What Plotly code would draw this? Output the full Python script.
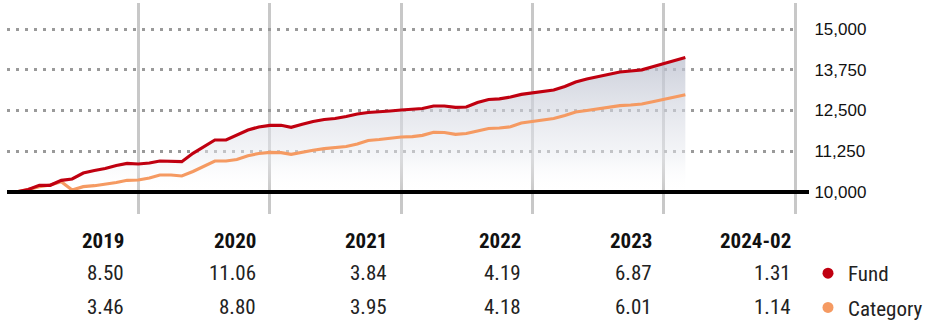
import pandas as pd
import plotly.graph_objects as go

# ---------------- data ----------------
start_month = "2018-12-31"
fund_values = [10000, 10015, 10077, 10205, 10205, 10359, 10399, 10583, 10660, 10721,
               10813, 10880, 10859, 10889, 10951, 10951, 10929, 11187, 11395, 11595,
               11595, 11748, 11902, 11994, 12046, 12046, 11984, 12076, 12162, 12224,
               12254, 12316, 12392, 12438, 12454, 12484, 12515, 12536, 12561, 12638,
               12638, 12598, 12607, 12745, 12837, 12858, 12914, 12996, 13045, 13088,
               13128, 13236, 13374, 13466, 13536, 13610, 13680, 13711, 13748, 13843,
               13947, 14033, 14125]
category_values = [10000, 10015, 10077, 10160, 10215, 10316, 10061, 10163, 10193, 10230,
                   10291, 10359, 10368, 10429, 10521, 10521, 10491, 10629, 10782, 10951,
                   10951, 10997, 11113, 11181, 11218, 11205, 11156, 11227, 11282, 11328,
                   11365, 11396, 11472, 11580, 11610, 11656, 11687, 11699, 11739, 11831,
                   11825, 11770, 11794, 11871, 11948, 11963, 12000, 12116, 12168, 12208,
                   12254, 12346, 12454, 12500, 12546, 12598, 12647, 12668, 12699, 12770,
                   12843, 12914, 12984]
period_labels = ["2019", "2020", "2021", "2022", "2023", "2024-02"]
fund_returns = ["8.50", "11.06", "3.84", "4.19", "6.87", "1.31"]
category_returns = ["3.46", "8.80", "3.95", "4.18", "6.01", "1.14"]
year_ends = ["2019-12-31", "2020-12-31", "2021-12-31", "2022-12-31", "2023-12-31", "2024-12-31"]
y_ticks = [10000, 11250, 12500, 13750, 15000]
series_names = ["Fund", "Category"]

# ---------------- style / layout constants ----------------
W, H = 939, 329
PL, PR, PT, PB = 7, 799, 3, 214          # plot area in px
X_END = "2025-01-10"
FUND_C = "#c00010"
CAT_C = "#f59a62"
col_right_px = [126, 258, 389, 523, 654, 793]
row_px = [241, 273, 307]
TABLE_FONT = "Liberation Sans Narrow, Roboto Condensed, DejaVu Sans Condensed, Arial Narrow, sans-serif"

dates = pd.date_range(start_month, periods=len(fund_values), freq="ME")

def px_to_paper_x(px):
    return (px - PL) / (PR - PL)

def px_to_paper_y(py):
    return (PB - py) / (PB - PT)

fig = go.Figure()

# baseline for the fill
fig.add_trace(go.Scatter(x=dates, y=[y_ticks[0]] * len(dates), mode="lines",
                         line=dict(width=0), showlegend=False, hoverinfo="skip"))
# shaded area under fund line
fig.add_trace(go.Scatter(
    x=dates, y=fund_values, mode="lines", line=dict(width=0), fill="tonexty",
    fillgradient=dict(type="vertical", start=10000, stop=14200,
                      colorscale=[[0, "rgba(255,255,255,0)"], [0.25, "rgba(235,237,242,0.5)"],
                                  [1, "rgba(185,190,205,0.75)"]]),
    showlegend=False, hoverinfo="skip"))
fig.add_trace(go.Scatter(x=dates, y=category_values, mode="lines",
                         line=dict(color=CAT_C, width=3.2), showlegend=False))
fig.add_trace(go.Scatter(x=dates, y=fund_values, mode="lines",
                         line=dict(color=FUND_C, width=3.2), showlegend=False))
# legend entries (dots)
for name, c in zip(series_names, [FUND_C, CAT_C]):
    fig.add_trace(go.Scatter(x=[None], y=[None], mode="markers", name=name, legendgroup=name,
                             marker=dict(color=c, size=11)))

# baseline black line (extends past plot on right)
fig.add_shape(type="line", xref="paper", yref="y", x0=0, x1=px_to_paper_x(809),
              y0=y_ticks[0], y1=y_ticks[0], line=dict(color="black", width=4), layer="above")

# table annotations
rows = [period_labels, fund_returns, category_returns]
for r, (row, py) in enumerate(zip(rows, row_px)):
    for txt, cx in zip(row, col_right_px):
        fig.add_annotation(
            x=px_to_paper_x(cx), y=px_to_paper_y(py), xref="paper", yref="paper",
            text=f"<b>{txt}</b>" if r == 0 else txt, showarrow=False,
            xanchor="right", yanchor="middle",
            font=dict(family=TABLE_FONT, size=21, color="#111" if r == 0 else "#222"))

y_per_px = 1250 / 40.75
y0 = 10000 - (PB - 192) * y_per_px
y1 = 10000 + (192 - PT) * y_per_px

fig.update_layout(
    width=W, height=H,
    margin=dict(l=PL, r=W - PR, t=PT, b=H - PB, autoexpand=False),
    paper_bgcolor="white", plot_bgcolor="white",
    xaxis=dict(range=[dates[0], pd.Timestamp(X_END)], type="date",
               tickvals=year_ends, showticklabels=False, ticks="",
               showgrid=True, gridcolor="#c8c8c8", gridwidth=3,
               zeroline=False, showline=False),
    yaxis=dict(range=[y0, y1], side="right", tickvals=y_ticks,
               ticktext=[f"{v:,}" for v in y_ticks],
               ticks="outside", ticklen=11, tickcolor="rgba(0,0,0,0)",
               tickfont=dict(family="Liberation Sans, Arial, sans-serif", size=17, color="#111"),
               showgrid=True, gridcolor="#9a9a9a", gridwidth=3, griddash="3px,6px",
               zeroline=False, showline=False),
    showlegend=True,
    legend=dict(x=px_to_paper_x(808), y=px_to_paper_y(253), xanchor="left", yanchor="top",
                font=dict(family=TABLE_FONT, size=21, color="#222"),
                itemwidth=30, tracegroupgap=4, traceorder="grouped", bgcolor="rgba(0,0,0,0)"),
)

fig.write_html("out.html")
